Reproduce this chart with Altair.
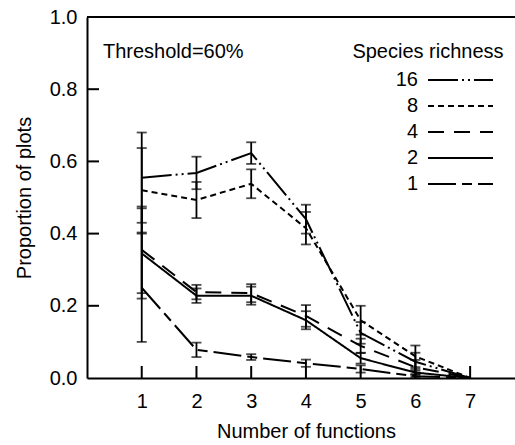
import altair as alt
import pandas as pd

functions = [1, 2, 3, 4, 5, 6, 7]
richness = ["16", "8", "4", "2", "1"]

mean_16 = [0.555, 0.568, 0.623, 0.44, 0.125, 0.045, 0.0]
mean_8 = [0.52, 0.493, 0.538, 0.415, 0.16, 0.06, 0.0]
mean_4 = [0.355, 0.238, 0.235, 0.172, 0.089, 0.03, 0.0]
mean_2 = [0.345, 0.228, 0.228, 0.16, 0.055, 0.015, 0.0]
mean_1 = [0.25, 0.078, 0.058, 0.041, 0.025, 0.005, 0.0]

err_16 = [0.125, 0.045, 0.03, 0.04, 0.03, 0.025, 0.0]
err_8 = [0.117, 0.05, 0.04, 0.045, 0.04, 0.03, 0.0]
err_4 = [0.12, 0.02, 0.025, 0.03, 0.02, 0.02, 0.0]
err_2 = [0.125, 0.02, 0.025, 0.025, 0.015, 0.01, 0.0]
err_1 = [0.15, 0.02, 0.008, 0.01, 0.01, 0.005, 0.0]

y_tick_values = [0.0, 0.2, 0.4, 0.6, 0.8, 1.0]
inner_y_ticks = [0.2, 0.4, 0.6, 0.8]
top_line = [1.0]

means = {"16": mean_16, "8": mean_8, "4": mean_4, "2": mean_2, "1": mean_1}
errs = {"16": err_16, "8": err_8, "4": err_4, "2": err_2, "1": err_1}

rows = []
for r in richness:
    for f, m, e in zip(functions, means[r], errs[r]):
        rows.append({"richness": r, "n": f, "p": m, "err": e, "lo": m - e, "hi": m + e})
df = pd.DataFrame(rows)

FONT = "Liberation Sans"
FS = 20

dash_scale = alt.Scale(
    domain=richness,
    range=[[30, 4, 2, 4, 2, 4], [6, 4], [16, 10], [1, 0], [28, 6, 10, 6]],
)

x_axis = alt.Axis(
    values=functions, grid=False, ticks=False, domainWidth=2, domainColor="black",
    labelFontSize=FS, labelFont=FONT, labelColor="black", labelPadding=13,
    title="Number of functions", titleFontSize=FS, titleFont=FONT, titleColor="black",
    titleFontWeight="normal", titleX=219, titleAlign="center", titlePadding=10,
)
y_axis = alt.Axis(
    values=y_tick_values, format=".1f", grid=False, ticks=False, domainWidth=2,
    domainColor="black", labelFontSize=FS, labelFont=FONT, labelColor="black",
    labelPadding=10, title="Proportion of plots", titleFontSize=FS, titleFont=FONT,
    titleColor="black", titleFontWeight="normal", titlePadding=15,
)
xs = alt.Scale(domain=[0, 7.82], nice=False, zero=False)
ys = alt.Scale(domain=[0, 1], nice=False)

X = alt.X("n:Q", scale=xs, axis=x_axis)
base = alt.Chart(df)

lines = base.mark_line(color="black", strokeWidth=2, strokeCap="butt").encode(
    x=X,
    y=alt.Y("p:Q", scale=ys, axis=y_axis),
    strokeDash=alt.StrokeDash("richness:N", scale=dash_scale, legend=None),
)
bars = base.transform_filter("datum.err > 0").mark_rule(color="black", strokeWidth=1.8).encode(
    x=X, y=alt.Y("lo:Q", scale=ys, axis=y_axis), y2="hi:Q"
)
cap_lo = base.transform_filter("datum.err > 0").mark_tick(
    color="black", orient="horizontal", size=10, thickness=1.8
).encode(x=X, y=alt.Y("lo:Q", scale=ys, axis=y_axis))
cap_hi = base.transform_filter("datum.err > 0").mark_tick(
    color="black", orient="horizontal", size=10, thickness=1.8
).encode(x=X, y=alt.Y("hi:Q", scale=ys, axis=y_axis))

xt = alt.Chart(pd.DataFrame({"n": functions})).mark_rule(color="black", strokeWidth=2).encode(
    x=X, y=alt.value(361), y2=alt.value(349)
)
yt = alt.Chart(pd.DataFrame({"v": inner_y_ticks})).mark_rule(color="black", strokeWidth=2).encode(
    y=alt.Y("v:Q", scale=ys, axis=y_axis), x=alt.value(0), x2=alt.value(12)
)
top = alt.Chart(pd.DataFrame({"v": top_line})).mark_rule(color="black", strokeWidth=2).encode(
    y=alt.Y("v:Q", scale=ys, axis=y_axis)
)
threshold = alt.Chart(pd.DataFrame({"t": ["Threshold=60%"]})).mark_text(
    align="left", baseline="middle", font=FONT, fontSize=FS, color="black"
).encode(x=alt.value(16), y=alt.value(35), text="t:N")
leg_title = alt.Chart(pd.DataFrame({"t": ["Species richness"]})).mark_text(
    align="center", baseline="middle", font=FONT, fontSize=FS, color="black"
).encode(x=alt.value(341), y=alt.value(35), text="t:N")

main = alt.layer(lines, bars, cap_lo, cap_hi, xt, yt, top, threshold, leg_title)

ldf = pd.DataFrame({"richness": richness})
LY = alt.Y("richness:N", sort=richness, scale=alt.Scale(type="point", range=[63, 167], padding=0), axis=None)
leg_text = alt.Chart(ldf).mark_text(
    align="right", baseline="middle", font=FONT, fontSize=FS, color="black"
).encode(x=alt.value(331), y=LY, text="richness:N")
leg_rules = alt.Chart(ldf).mark_rule(color="black", strokeWidth=2, strokeCap="butt").encode(
    x=alt.value(341), x2=alt.value(406), y=LY,
    strokeDash=alt.StrokeDash("richness:N", scale=dash_scale, legend=None),
)
legend = alt.layer(leg_text, leg_rules)

chart = (
    alt.layer(main, legend)
    .resolve_scale(y="independent")
    .properties(
        width=428, height=361,
        autosize=alt.AutoSizeParams(type="none"),
        padding={"left": 87, "top": 17, "right": 0, "bottom": 67},
        background="white",
    )
    .configure_view(stroke=None)
)

chart.save("out.html", embed_options={"renderer": "svg", "actions": False})
